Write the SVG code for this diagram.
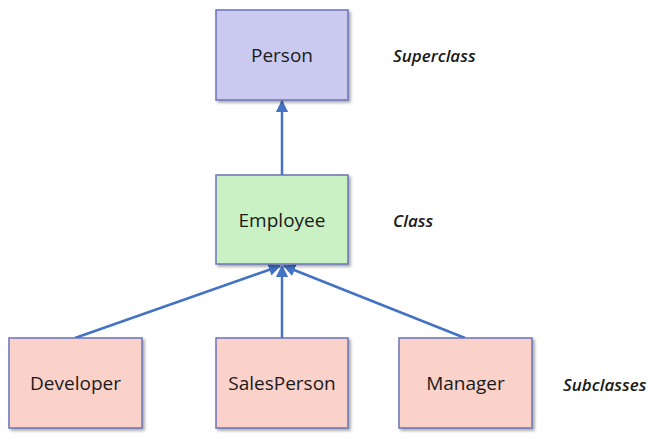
<svg xmlns="http://www.w3.org/2000/svg" width="657" height="438" viewBox="0 0 657 438">
<defs>
<marker id="ah" viewBox="0 0 10 10" refX="9" refY="5" markerWidth="5" markerHeight="5" orient="auto-start-reverse" markerUnits="strokeWidth">
<path d="M0,0 L10,5 L0,10 z" fill="#4472c4"/>
</marker>
<filter id="sh" x="-10%" y="-10%" width="130%" height="130%">
<feGaussianBlur in="SourceAlpha" stdDeviation="1.5"/>
<feOffset dx="2" dy="2" result="b"/>
<feComponentTransfer><feFuncA type="linear" slope="0.35"/></feComponentTransfer>
<feMerge><feMergeNode/><feMergeNode in="SourceGraphic"/></feMerge>
</filter>
<style>
.box{stroke:#6a74b6;stroke-width:1.5;filter:url(#sh)}
.sup{fill:#cacaf0}
.cls{fill:#c9f1c4}
.sub{fill:#fad2ca}
.lbl{font-family:"Open Sans","Noto Sans",sans-serif;font-size:19px;fill:#1a1a1a;text-anchor:middle}
.note{font-family:"Open Sans","Noto Sans",sans-serif;font-size:17px;font-style:italic;font-weight:600;fill:#1a1a1a}
.conn{stroke:#4472c4;stroke-width:2.5;fill:none;marker-end:url(#ah)}
</style>
</defs>
<rect width="657" height="438" fill="#ffffff"/>
<g id="connectors">
<line class="conn" x1="282" y1="175" x2="282" y2="101"/>
<line class="conn" x1="75" y1="338" x2="280" y2="266"/>
<line class="conn" x1="282" y1="338" x2="282" y2="266"/>
<line class="conn" x1="465" y1="338" x2="284" y2="266"/>
</g>
<g id="person">
<rect class="box sup" x="216" y="10" width="132" height="90"/>
<text class="lbl" x="282" y="62">Person</text>
</g>
<g id="employee">
<rect class="box cls" x="216" y="175" width="132" height="89"/>
<text class="lbl" x="282" y="227">Employee</text>
</g>
<g id="developer">
<rect class="box sub" x="9" y="338" width="133" height="90"/>
<text class="lbl" x="75.5" y="390">Developer</text>
</g>
<g id="salesperson">
<rect class="box sub" x="216" y="338" width="132" height="90"/>
<text class="lbl" x="282" y="390">SalesPerson</text>
</g>
<g id="manager">
<rect class="box sub" x="399" y="338" width="133" height="90"/>
<text class="lbl" x="465.5" y="390">Manager</text>
</g>
<text class="note" x="393" y="62">Superclass</text>
<text class="note" x="393" y="227">Class</text>
<text class="note" x="563" y="391">Subclasses</text>
</svg>
